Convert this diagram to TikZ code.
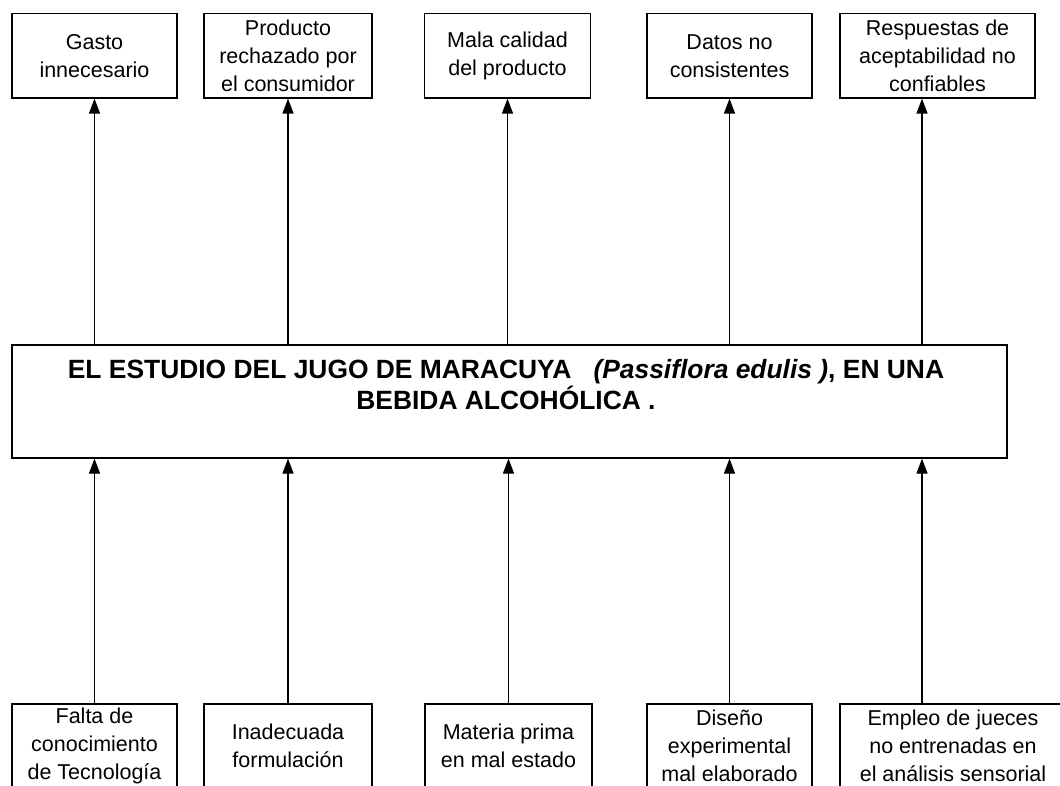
\documentclass[tikz,border=0pt]{standalone}
\usepackage{fontspec}
\setmainfont{Liberation Sans}
\usetikzlibrary{arrows.meta}
\begin{document}
\begin{tikzpicture}[x=1pt,y=-1pt,
  box/.style={draw, line width=1.2pt, inner sep=0pt, align=center,
    font=\fontsize{21.5}{28}\selectfont},
  arr/.style={line width=1.2pt, -{Triangle[length=15pt,width=11pt]}}]
\useasboundingbox (0,0) rectangle (1060,786);
\fill[white] (0,0) rectangle (1060,786);
\clip (0,0) rectangle (1060,786);
% effects (top)
\node[box, minimum width=165pt, minimum height=84.5pt] (t1) at (94.5,55.75) {Gasto\\innecesario};
\node[box, minimum width=168pt, minimum height=84.5pt] (t2) at (288,55.75) {Producto\\rechazado por\\el consumidor};
\node[box, minimum width=166pt, minimum height=84.5pt] (t3) at (507.5,55.75) {Mala calidad\\del producto};
\node[box, minimum width=165pt, minimum height=84.5pt] (t4) at (729.5,55.75) {Datos no\\consistentes};
\node[box, minimum width=195pt, minimum height=84.5pt] (t5) at (937.5,55.75) {Respuestas de\\aceptabilidad no\\confiables};
% central problem
\node[draw, line width=1.2pt, minimum width=995pt, minimum height=113pt, inner sep=0pt] (c) at (509.5,401.5) {};
\node[anchor=north, inner sep=0pt, align=center, font=\fontsize{26.4}{31}\selectfont\bfseries] (title) at (506,359.5)
  {EL ESTUDIO DEL JUGO DE MARACUYA\ \ \ \textit{(Passiflora edulis )}, EN UNA\\BEBIDA ALCOHÓLICA .};
% causes (bottom)
\node[box, minimum width=165pt, minimum height=84pt] (b1) at (94.5,746) {Falta de\\conocimiento\\de Tecnología};
\node[box, minimum width=168pt, minimum height=84pt] (b2) at (288,746) {Inadecuada\\formulación};
\node[box, minimum width=167pt, minimum height=84pt] (b3) at (508.5,746) {Materia prima\\en mal estado};
\node[box, minimum width=165pt, minimum height=84pt] (b4) at (729.5,746) {Diseño\\experimental\\mal elaborado};
\node[box, minimum width=226pt, minimum height=84pt] (b5) at (953,746) {Empleo de jueces\\no entrenadas en\\el análisis sensorial};
\coordinate (a5) at (922,0);
% arrows from causes to problem
\draw[arr] (b1.north) -- (b1.north |- c.south);
\draw[arr] (b2.north) -- (b2.north |- c.south);
\draw[arr] (b3.north) -- (b3.north |- c.south);
\draw[arr] (b4.north) -- (b4.north |- c.south);
\draw[arr] (b5.north -| a5) -- (c.south -| a5);
% arrows from problem to effects
\draw[arr] (c.north -| t1.south) -- (t1.south);
\draw[arr] (c.north -| t2.south) -- (t2.south);
\draw[arr] (c.north -| t3.south) -- (t3.south);
\draw[arr] (c.north -| t4.south) -- (t4.south);
\draw[arr] (c.north -| a5) -- (t5.south -| a5);
\end{tikzpicture}
\end{document}
